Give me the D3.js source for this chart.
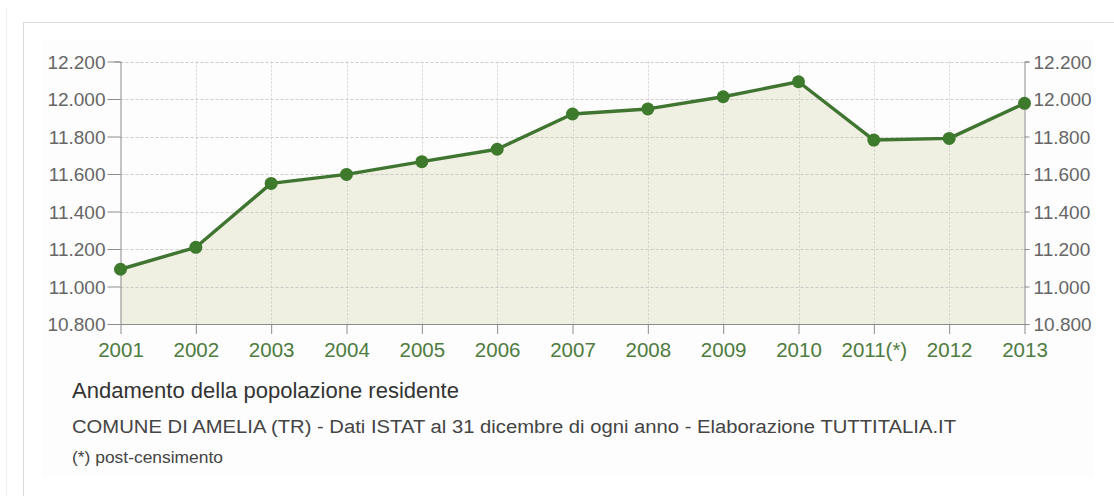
<!DOCTYPE html>
<html><head><meta charset="utf-8">
<script src="https://cdn.jsdelivr.net/npm/d3@7"></script>
<style>
html,body{margin:0;padding:0;background:#fff;}
svg{display:block;font-family:"Liberation Sans",Arial,Helvetica,sans-serif;}
</style></head>
<body>
<svg id="c" width="1114" height="496"></svg>
<script>
const years = ["2001","2002","2003","2004","2005","2006","2007","2008","2009","2010","2011(*)","2012","2013"];
const population = [11092, 11209, 11550, 11598, 11666, 11732, 11920, 11947, 12012, 12092, 11781, 11790, 11977];
const yTicks = [10800, 11000, 11200, 11400, 11600, 11800, 12000, 12200];
const title = "Andamento della popolazione residente";
const subtitle = "COMUNE DI AMELIA (TR) - Dati ISTAT al 31 dicembre di ogni anno - Elaborazione TUTTITALIA.IT";
const note = "(*) post-censimento";

const svg = d3.select("#c");
// frame
svg.append("line").attr("x1",6.5).attr("x2",6.5).attr("y1",8).attr("y2",496).attr("stroke","#f0f0f0");
svg.append("rect").attr("x",23.5).attr("y",22.5).attr("width",1200).attr("height",600)
  .attr("fill","#fff").attr("stroke","#dcdcdc");
svg.append("rect").attr("x",42).attr("y",40).attr("width",1052).attr("height",438).attr("fill","#fdfdfd");

const L=120.5, R=1024.5, T=61.5, B=324;
const x = d3.scalePoint().domain(years).range([L,R]);
const y = d3.scaleLinear().domain([10800,12200]).range([B,T]);

// area
const area = d3.area().x((d,i)=>x(years[i])).y0(B).y1(d=>y(d));
svg.append("path").datum(population).attr("d",area).attr("fill","#eff0e2");

// grid
const g = svg.append("g");
g.selectAll("line.h").data(yTicks.slice(1)).join("line")
  .attr("x1",L).attr("x2",R).attr("y1",d=>Math.round(y(d))+0.5).attr("y2",d=>Math.round(y(d))+0.5)
  .attr("stroke","#c4c4c4").attr("stroke-dasharray","3,2").attr("stroke-width",1).attr("opacity",0.85);
g.selectAll("line.v").data(years.slice(1,-1)).join("line")
  .attr("x1",d=>Math.round(x(d))+0.5).attr("x2",d=>Math.round(x(d))+0.5).attr("y1",T).attr("y2",B)
  .attr("stroke","#c8c8c8").attr("stroke-dasharray","2,2").attr("stroke-width",1).attr("opacity",0.8);

// axes
const fmt = d => d3.format(",")(d).replace(/,/g,".");
const axL = svg.append("g").attr("transform",`translate(${L},0)`)
  .call(d3.axisLeft(y).tickValues(yTicks).tickFormat(fmt).tickSize(13).tickSizeOuter(6).tickPadding(2));
const axR = svg.append("g").attr("transform",`translate(${R},0)`)
  .call(d3.axisRight(y).tickValues(yTicks).tickFormat(fmt).tickSize(5).tickPadding(4));
const axB = svg.append("g").attr("transform",`translate(0,${B})`)
  .call(d3.axisBottom(x).tickSize(10).tickSizeOuter(0).tickPadding(4));
[axL,axR,axB].forEach(a=>{
  a.selectAll("path.domain").attr("stroke","#8c8c8c");
  a.selectAll(".tick line").attr("stroke","#8c8c8c");
  a.selectAll("text").attr("font-family","Liberation Sans, Arial, sans-serif");
});
[axL,axR].forEach(a=>a.selectAll("text").attr("font-size",19).attr("fill","#666").attr("dy","0.36em"));
axB.selectAll("text").attr("font-size",20.5).attr("fill","#4e7b40").attr("y",33).attr("dy",null);

// line & points
const line = d3.line().x((d,i)=>x(years[i])).y(d=>y(d));
svg.append("path").datum(population).attr("d",line).attr("fill","none")
  .attr("stroke","#3f7530").attr("stroke-width",3.4).attr("stroke-linejoin","round");
svg.selectAll("circle.p").data(population).join("circle")
  .attr("cx",(d,i)=>x(years[i])).attr("cy",d=>y(d)).attr("r",6.5).attr("fill","#3d7a2c");

// texts
svg.append("text").attr("x",72).attr("y",398).attr("font-size",21.5).attr("fill","#333")
  .attr("textLength",387).attr("lengthAdjust","spacingAndGlyphs").text(title);
svg.append("text").attr("x",72).attr("y",433).attr("font-size",18).attr("fill","#444")
  .attr("textLength",884).attr("lengthAdjust","spacingAndGlyphs").text(subtitle);
svg.append("text").attr("x",72).attr("y",463).attr("font-size",17).attr("fill","#444")
  .attr("textLength",151).attr("lengthAdjust","spacingAndGlyphs").text(note);
</script>
</body></html>
